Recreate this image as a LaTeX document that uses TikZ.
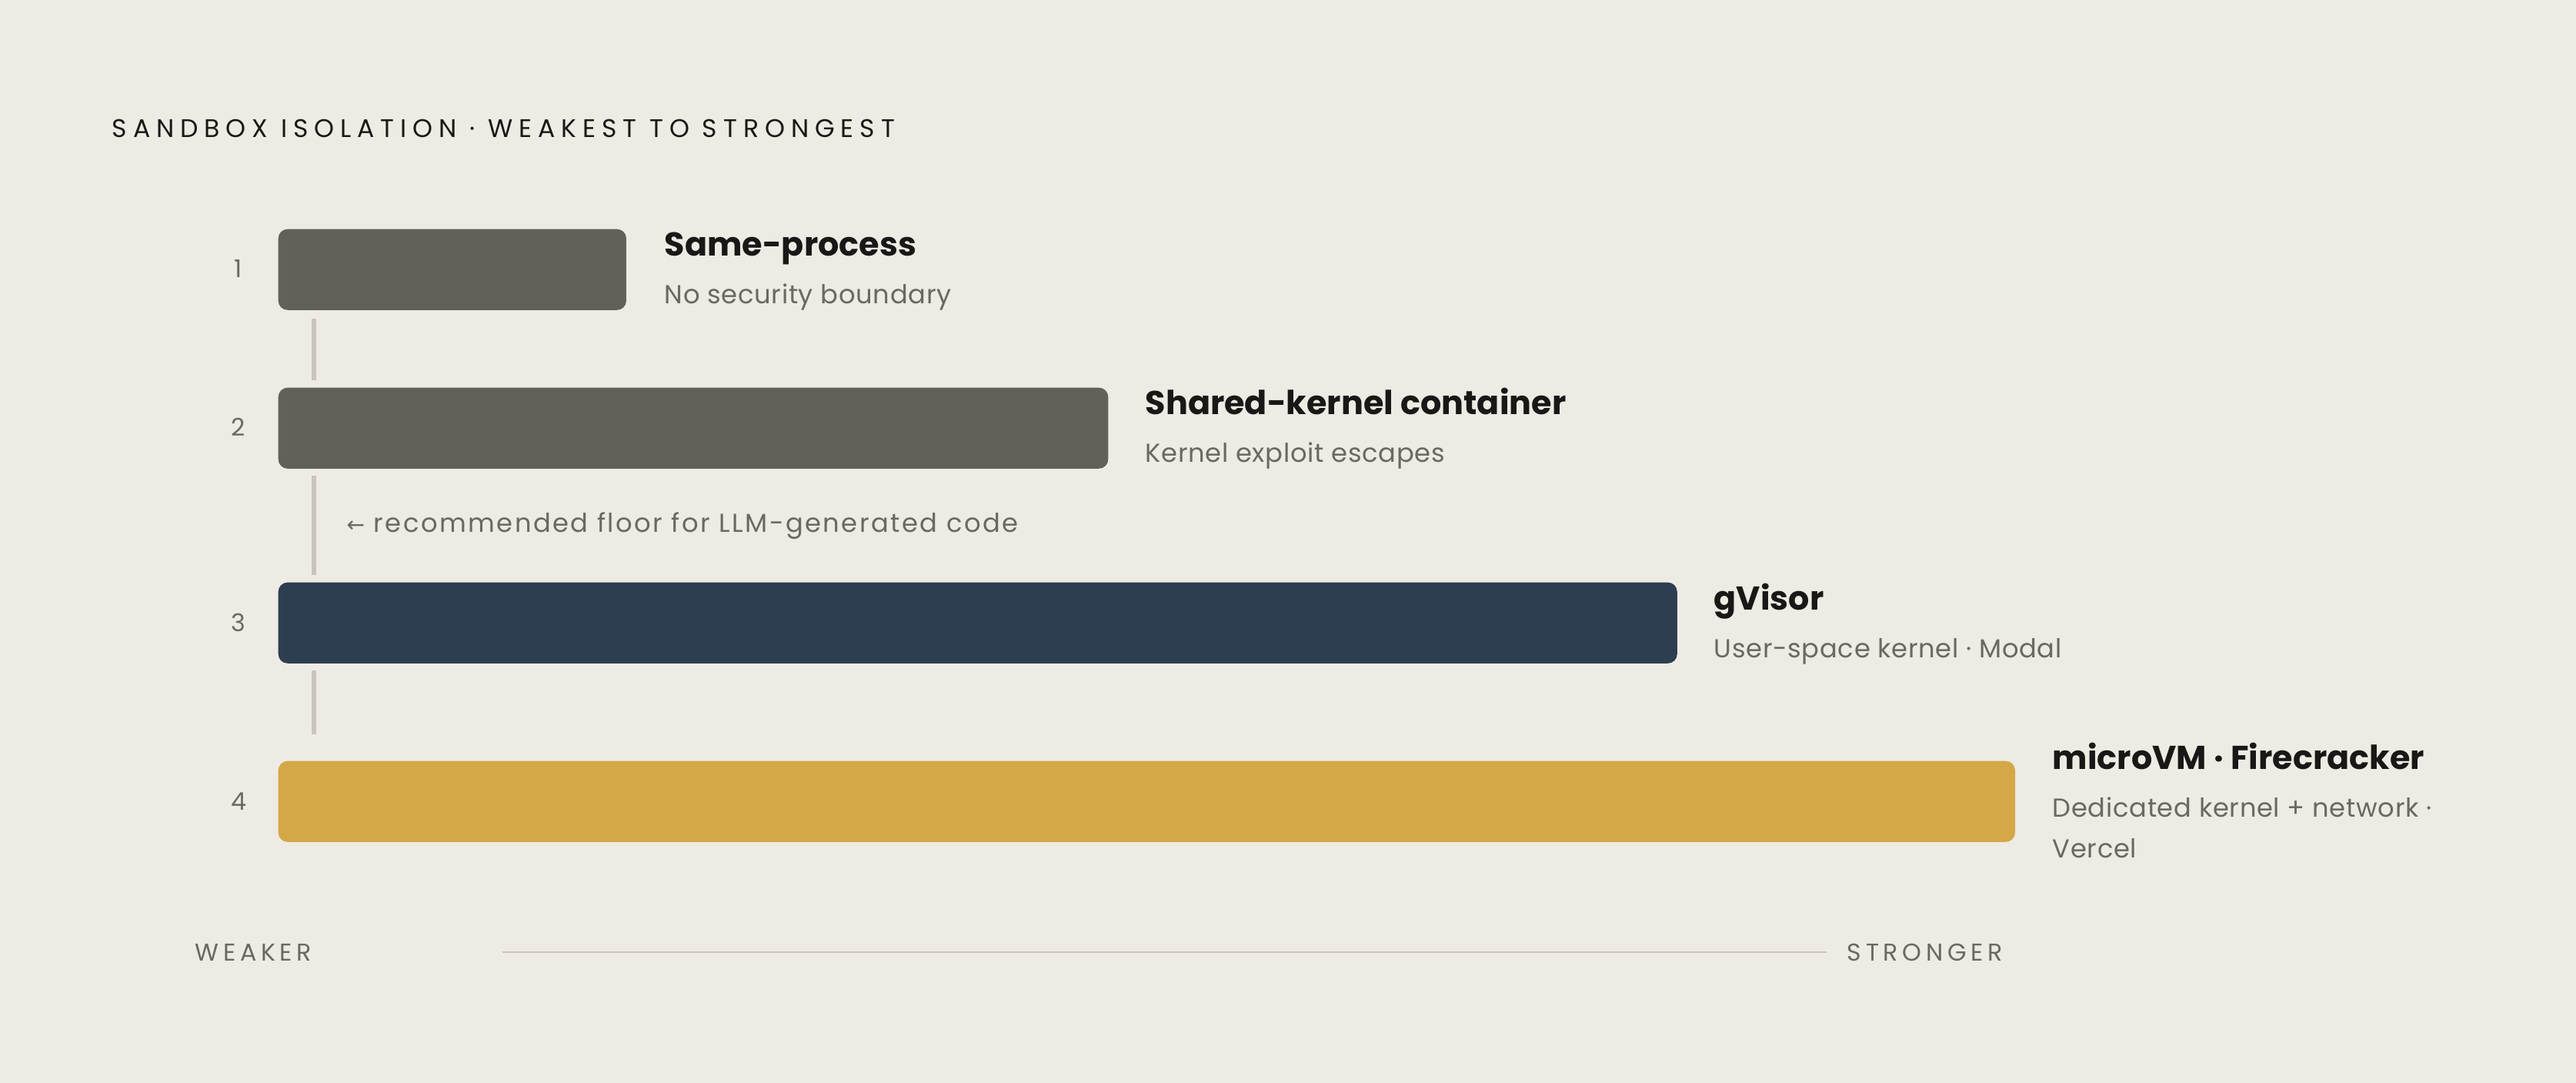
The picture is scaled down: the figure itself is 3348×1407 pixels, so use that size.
\documentclass[tikz,border=0pt]{standalone}
\usepackage{fontspec}
\setmainfont{Poppins}
\newfontfamily\spacedfont[LetterSpace=24]{Poppins}
\newfontfamily\capsfont[LetterSpace=18]{Poppins}
\newfontfamily\subfont[LetterSpace=2]{Poppins}
\newfontfamily\notefont[LetterSpace=7.3]{Poppins}
\newfontfamily\symfont{DejaVu Sans}
\definecolor{bg}{HTML}{EEEBE5}
\definecolor{bargray}{HTML}{63605A}
\definecolor{barnavy}{HTML}{2C3E50}
\definecolor{bargold}{HTML}{D4A846}
\definecolor{ink}{HTML}{1A1816}
\definecolor{muted}{HTML}{6B6862}
\definecolor{rule}{HTML}{C9C5BD}
\begin{document}
\begin{tikzpicture}[x=0.01cm,y=-0.01cm,
  bar/.style={rounded corners=0.12cm, minimum height=1.05cm, inner sep=0, anchor=north west, draw=none},
  lbl/.style={anchor=base west, inner sep=0, text=ink, font=\fontsize{12.2pt}{14pt}\selectfont\bfseries},
  sub/.style={anchor=base west, inner sep=0, text=muted, font=\fontsize{9.6pt}{11pt}\selectfont\subfont},
  num/.style={anchor=center, inner sep=0, text=muted, font=\fontsize{9pt}{11pt}\selectfont},
  conn/.style={draw=rule, line width=1.7pt},
  axis/.style={draw=rule, line width=0.85pt},
  caps/.style={anchor=base west, inner sep=0, text=muted, font=\fontsize{9pt}{11pt}\selectfont\capsfont}]
\fill[bg] (0,0) rectangle (3348,1407);
\useasboundingbox (0,0) rectangle (3348,1407);

\node[anchor=base west, inner sep=0, text=ink, font=\fontsize{9.4pt}{11pt}\selectfont\spacedfont] (title) at (145,179) {SANDBOX ISOLATION · WEAKEST TO STRONGEST};

\node[bar, fill=bargray, minimum width=4.52cm] (b1) at (361,297) {};
\node[bar, fill=bargray, minimum width=10.78cm] (b2) at (361,503) {};
\node[bar, fill=barnavy, minimum width=18.17cm] (b3) at (361,756) {};
\node[bar, fill=bargold, minimum width=22.56cm] (b4) at (361,988) {};

\node[num] (n1) at (310,349) {1};
\node[num] (n2) at (310,555) {2};
\node[num] (n3) at (310,809) {3};
\node[num] (n4) at (310,1041) {4};

\draw[conn] ([xshift=0.47cm,yshift=-0.11cm]b1.south west) -- ([xshift=0.47cm,yshift=0.09cm]b2.north west);
\draw[conn] ([xshift=0.47cm,yshift=-0.09cm]b2.south west) -- ([xshift=0.47cm,yshift=0.09cm]b3.north west);
\draw[conn] ([xshift=0.47cm,yshift=-0.09cm]b3.south west) -- ([xshift=0.47cm,yshift=0.34cm]b4.north west);

\node[lbl] (t1) at (863,333) {Same-process};
\node[sub] (s1) at (863,395) {No security boundary};
\node[lbl] (t2) at (1488,539) {Shared-kernel container};
\node[sub] (s2) at (1488,601) {Kernel exploit escapes};
\node[lbl] (t3) at (2227,793) {gVisor};
\node[sub] (s3) at (2227,855) {User-space kernel · Modal};
\node[lbl] (t4) at (2667,1000) {microVM · Firecracker};
\node[sub] (s4) at (2667,1062) {Dedicated kernel + network ·};
\node[sub] (s4b) at (2667,1114) {Vercel};

\node[anchor=base west, inner sep=0, text=muted, font=\fontsize{9.6pt}{11pt}\selectfont\notefont] (note) at (450,692) {{\symfont\fontsize{8pt}{10pt}\selectfont ←} recommended floor for LLM-generated code};

\node[caps] (weak) at (253,1248) {WEAKER};
\node[caps] (strong) at (2400,1248) {STRONGER};
\coordinate (axl) at (653,1237);
\coordinate (axr) at (2374,1237);
\draw[axis] (axl) -- (axr);
\end{tikzpicture}
\end{document}
